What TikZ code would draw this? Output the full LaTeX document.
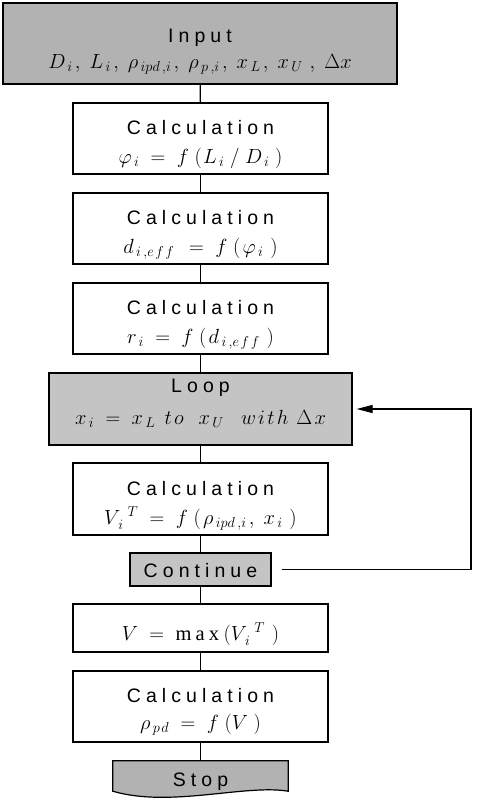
\RequirePackage{fix-cm}
\documentclass[tikz,border=0pt]{standalone}
\usepackage{fontspec}
\setmainfont{Liberation Sans}
\newfontfamily\spacedfont[LetterSpace=26]{Liberation Sans}
\newfontfamily\serifwide[LetterSpace=20]{Liberation Serif}
\usetikzlibrary{arrows.meta}

\definecolor{boxgray}{RGB}{178,178,178}
\definecolor{loopgray}{RGB}{196,196,196}

% wide spacing of the math lines
\newcommand{\gap}{\mkern5mu}
\newcommand{\sub}[1]{_{\mkern3mu #1}}
\newcommand{\sep}{\mkern2mu,\mkern5mu}

\tikzset{
  flowbox/.style  = {draw, line width=1.2pt, fill=white, inner sep=0pt},
  graybox/.style  = {flowbox, fill=boxgray},
  loopbox/.style  = {flowbox, fill=loopgray},
  calcbox/.style  = {flowbox, minimum width=255pt, minimum height=71pt},
  headtxt/.style  = {anchor=base, inner sep=0pt, font=\spacedfont\fontsize{19.5}{24}\selectfont},
  mathtxt/.style  = {anchor=base, inner sep=0pt, font=\fontsize{20.5}{24}\selectfont},
  link/.style     = {line width=1.2pt}
}

\begin{document}
\begin{tikzpicture}[x=1pt, y=-1pt]

\useasboundingbox (0,0) rectangle (477,804);

% input
\node[graybox, minimum width=394pt, minimum height=81pt] (input) at (200,43.5) {};
\node[headtxt] (inputh) at ([yshift=-40pt]input.north) {Input};
\node[mathtxt] (inputm) at ([yshift=-66pt]input.north)
  {$D\sub{i}\sep L\sub{i}\sep \rho\sub{ipd\mkern3mu,i}\sep \rho\sub{p\mkern3mu,i}\sep
    x\sub{L}\sep x\sub{U}\mkern4mu\sep \Delta x$};

% calculations
\node[calcbox] (calcphi) at (200.5,138.5) {};
\node[headtxt] (calcphih) at ([yshift=-32pt]calcphi.north) {Calculation};
\node[mathtxt] (calcphim) at ([yshift=-61pt]calcphi.north)
  {$\varphi\sub{i}\gap=\gap f\gap\bigl(\mkern1mu L\sub{i}\gap/\gap D\sub{i}\mkern5mu\bigr)$};

\node[calcbox] (calcdeff) at (200.5,228.5) {};
\node[headtxt] (calcdeffh) at ([yshift=-32pt]calcdeff.north) {Calculation};
\node[mathtxt] (calcdeffm) at ([yshift=-61pt]calcdeff.north)
  {$d\sub{i\mkern3mu,e\mkern2mu f\mkern2mu f}\mkern3mu\gap=\gap f\gap(\mkern2mu\varphi\sub{i}\mkern6mu)$};

\node[calcbox] (calcr) at (200.5,318.5) {};
\node[headtxt] (calcrh) at ([yshift=-32pt]calcr.north) {Calculation};
\node[mathtxt] (calcrm) at ([yshift=-61pt]calcr.north)
  {$r\sub{i}\gap=\gap f\gap\bigl(\mkern2mu d\sub{i\mkern3mu,e\mkern2mu f\mkern2mu f}\mkern6mu\bigr)$};

% loop
\node[loopbox, minimum width=303pt, minimum height=72pt] (loop) at (200.5,409) {};
\node[headtxt] (looph) at ([yshift=-20pt]loop.north) {Loop};
\node[mathtxt] (loopm) at ([yshift=-52pt]loop.north)
  {$x\sub{i}\gap=\gap x\sub{L}\mkern8mu t\mkern2mu o\mkern13mu x\sub{U}\mkern15mu
    w\mkern2mu i\mkern2mu t\mkern2mu h\mkern7mu \Delta\mkern2mu x$};

\node[calcbox, minimum height=72pt] (calcv) at (200.5,499) {};
\node[headtxt] (calcvh) at ([yshift=-33pt]calcv.north) {Calculation};
\node[mathtxt] (calcvm) at ([yshift=-62pt]calcv.north)
  {$V^{\mkern9mu T}_{\mkern3mu i}\gap=\gap f\gap\bigl(\mkern2mu \rho\sub{ipd\mkern3mu,i}\sep x\sub{i}\mkern6mu\bigr)$};

\node[loopbox, minimum width=141pt, minimum height=33pt] (cont) at (200.5,569.5) {};
\node[headtxt] (conth) at ([yshift=-25pt]cont.north) {Continue};

% result
\node[flowbox, minimum width=255pt, minimum height=48pt] (vmax) at (200.5,628) {};
\node[mathtxt] (vmaxm) at ([yshift=-37pt]vmax.north)
  {$V\gap=\gap \mbox{\serifwide max}\mkern4mu\bigl(V^{\mkern9mu T}_{\mkern3mu i}\mkern6mu\bigr)$};

\node[calcbox] (calcrho) at (200.5,706.5) {};
\node[headtxt] (calcrhoh) at ([yshift=-32pt]calcrho.north) {Calculation};
\node[mathtxt] (calcrhom) at ([yshift=-59pt]calcrho.north)
  {$\rho\sub{p\mkern2mu d}\gap=\gap f\mkern5mu(V\mkern5mu)$};

% stop
\node[minimum width=175pt, minimum height=30pt, inner sep=0pt] (stop) at (200.5,776) {};
\draw[line width=1.2pt, fill=boxgray] (stop.north west) -- (stop.north east) -- (stop.south east)
  .. controls (245,784) and (170,808) .. (stop.south west) -- cycle;
\node[headtxt] (stoph) at ([yshift=-26pt]stop.north) {Stop};

\draw[link] (input) -- (calcphi);
\draw[link] (calcphi) -- (calcdeff);
\draw[link] (calcdeff) -- (calcr);
\draw[link] (calcr) -- (loop);
\draw[link] (loop) -- (calcv);
\draw[link] (calcv) -- (cont);
\draw[link] (cont) -- (vmax);
\draw[link] (vmax) -- (calcrho);
\draw[link] (calcrho) -- (stop);

% feedback
\draw[link, -{Triangle[length=16pt, width=8pt]}, shorten <=10pt, shorten >=4pt]
  (cont.east) -- (471,569.5) |- (loop.east);

\end{tikzpicture}
\end{document}
